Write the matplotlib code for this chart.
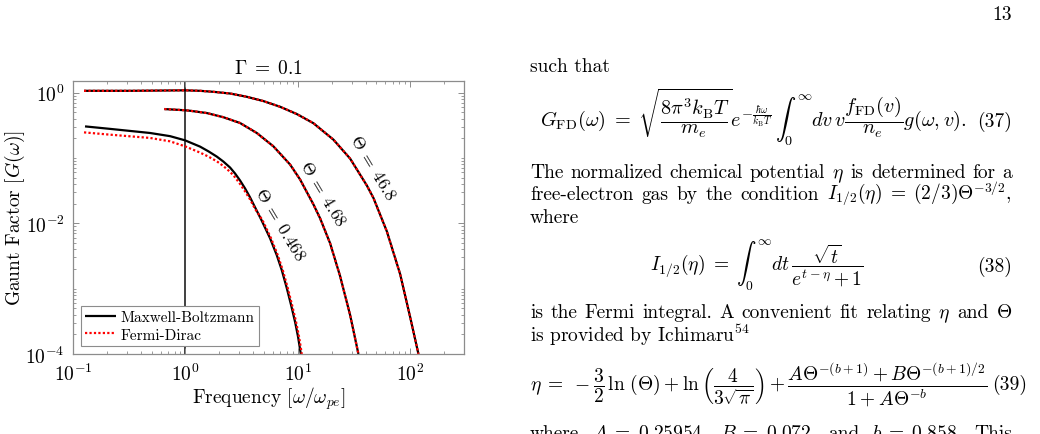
import re

import matplotlib
matplotlib.use("Agg")
import matplotlib.pyplot as plt
from matplotlib.ticker import LogLocator, FixedLocator, NullFormatter

plt.rcParams.update({
    "font.family": "cmr10",
    "mathtext.fontset": "cm",
    "axes.unicode_minus": False,
    "axes.formatter.use_mathtext": True,
})

# values (Gamma = 0.1)
x_0468 = [0.1279, 0.2134, 0.4842, 0.7294, 0.9918, 1.349, 1.599, 1.899, 2.174, 2.494, 2.763,
          3.060, 3.391, 3.757, 4.161, 4.755, 5.657, 6.492, 7.192, 7.966, 8.699, 9.443,
          10.04, 10.61]
mb_0468 = [0.3032, 0.2778, 0.2404, 0.2150, 0.1855, 0.1487, 0.1261, 0.1047, 0.08782, 0.07115,
           0.05763, 0.04508, 0.03404, 0.02482, 0.01748, 0.01107, 0.005886, 0.003241,
           0.001914, 0.001018, 5.606e-4, 3.086e-4, 1.822e-4, 1.0e-4]
xfd_0468 = [0.1253, 0.2134, 0.4842, 0.7294, 0.9918, 1.349, 1.599, 1.899, 2.174, 2.494, 2.763,
            3.060, 3.391, 3.757, 4.161, 4.853, 5.774, 6.627, 7.341, 8.131, 8.880, 9.638,
            10.25, 10.83]
fd_0468 = [0.2456, 0.2265, 0.2018, 0.1791, 0.1502, 0.1204, 0.1047, 0.08874, 0.07499, 0.06117,
           0.05044, 0.03987, 0.03063, 0.02313, 0.01658, 0.01107, 0.005886, 0.003241,
           0.001914, 0.001018, 5.606e-4, 3.086e-4, 1.822e-4, 1.0e-4]

x_468 = [0.6492, 0.9918, 1.099, 1.547, 2.174, 3.060, 4.309, 6.054, 8.524, 10.46, 13.74,
         15.76, 19.34, 23.74, 29.13, 34.53]
mb_468 = [0.5584, 0.5353, 0.5260, 0.4853, 0.4188, 0.3416, 0.2404, 0.1502, 0.07905, 0.04670,
          0.01942, 0.01188, 0.004938, 0.001550, 3.946e-4, 1.0e-4]
fd_468 = mb_468  # indistinguishable from MB at this scale

x_4680 = [0.1253, 0.3215, 0.9918, 1.349, 1.771, 2.494, 3.511, 4.933, 6.943, 9.777, 13.74,
          20.70, 29.13, 41.02, 46.96, 61.79, 81.16, 99.59, 118.0]
mb_4680 = [1.0615, 1.0615, 1.080, 1.0615, 1.025, 0.9655, 0.8604, 0.7396, 0.6053, 0.4686,
           0.3392, 0.1901, 0.09757, 0.03782, 0.02438, 0.007522, 0.001663, 3.677e-4, 1.0e-4]
fd_4680 = mb_4680

curves = [(x_0468, mb_0468, xfd_0468, fd_0468),
          (x_468, mb_468, x_468, fd_468),
          (x_4680, mb_4680, x_4680, fd_4680)]
theta_labels = [r"$\Theta\;=\;0.468$", r"$\Theta\;=\;4.68$", r"$\Theta\;=\;46.8$"]
label_pos = [(6.95, 0.0100), (16.8, 0.0295), (46.7, 0.0737)]

W, H = 1040, 435
fig = plt.figure(figsize=(W / 100, H / 100), dpi=100)
ax = fig.add_axes([73 / W, 80 / H, 391 / W, 273 / H])

for i, (xm, ym, xf, yf) in enumerate(curves):
    ax.plot(xm, ym, color="black", lw=1.6, solid_capstyle="butt",
            label="Maxwell-Boltzmann" if i == 0 else None)
    ax.plot(xf, yf, color="red", lw=1.6, ls=(0, (1, 1)),
            label="Fermi-Dirac" if i == 0 else None)
for txt, (lx, ly) in zip(theta_labels, label_pos):
    ax.text(lx, ly, txt, rotation=-59, rotation_mode="anchor", ha="center", va="center",
            fontsize=12.5)
ax.axvline(1.0, color="#404040", lw=1.4, zorder=1)

ax.set_xscale("log"); ax.set_yscale("log")
ax.set_xlim(0.1, 300); ax.set_ylim(1e-4, 1.5)
ax.yaxis.set_major_locator(FixedLocator([1e-4, 1e-2, 1e0]))
ax.yaxis.set_minor_locator(LogLocator(base=10, subs=range(1, 10), numticks=20))
ax.xaxis.set_minor_locator(LogLocator(base=10, subs=range(2, 10), numticks=20))
ax.yaxis.set_minor_formatter(NullFormatter()); ax.xaxis.set_minor_formatter(NullFormatter())
ax.tick_params(which="both", direction="in", top=True, right=True, color="#8c8c8c",
               labelsize=14, pad=6)
ax.tick_params(which="major", length=4, width=0.7)
ax.tick_params(which="minor", length=2, width=0.6)
for s in ax.spines.values():
    s.set_color("#8c8c8c"); s.set_linewidth(0.9)
ax.set_xlabel(r"Frequency $[\omega/\omega_{pe}]$", fontsize=14)
ax.set_ylabel(r"Gaunt Factor $[G(\omega)]$", fontsize=14)
ax.xaxis.set_label_coords(0.5, -30 / 273)
ax.yaxis.set_label_coords(-46 / 391, 0.5)
ax.set_title(r"$\Gamma\;=\;0.1$", fontsize=14, pad=6)
leg = ax.legend(loc="lower left", fontsize=11, fancybox=False, framealpha=1,
                edgecolor="#8c8c8c", borderaxespad=0.5, handlelength=2.0,
                handletextpad=0.3, labelspacing=0.25, borderpad=0.3)
leg.get_frame().set_linewidth(0.8)


# ---- right-hand column of the page ----
def put(x, y, s, **kw):
    kw.setdefault("fontsize", 14)
    kw.setdefault("va", "baseline")
    return fig.text(x / W, 1 - y / H, s, **kw)


renderer = fig.canvas.get_renderer()


def justify(x0, x1, y, line):
    words = re.findall(r"(?:\$[^$]*\$|\S)+", line)
    arts = [put(x0, y, w) for w in words]
    widths = [a.get_window_extent(renderer).width for a in arts]
    gap = (x1 - x0 - sum(widths)) / (len(words) - 1)
    x = x0
    for a, w in zip(arts, widths):
        a.set_x(x / W)
        x += w + gap


put(1012, 20, "13", ha="right")
put(530, 72, "such that")
put(540, 127, r"$G_{\mathrm{FD}}(\omega)\;=\;\sqrt{\dfrac{8\pi^3 k_{\mathrm{B}}T}{m_e}}"
              r"e^{-\frac{\hbar\omega}{k_{\mathrm{B}}T}}\,\int_0^\infty dv\,v"
              r"\dfrac{f_{\mathrm{FD}}(v)}{n_e}g(\omega,v).$", fontsize=14.6)
put(1012, 127, "(37)", ha="right")
justify(530, 1012, 178, r"The normalized chemical potential $\eta$ is determined for a")
justify(530, 1012, 200,
        r"free-electron gas by the condition $I_{1/2}(\eta)\;=\;(2/3)\Theta^{-3/2}$,")
put(530, 223, "where")
put(650, 272, r"$I_{1/2}(\eta)\;=\;\int_0^\infty dt\,\dfrac{\sqrt{t}}{e^{t-\eta}+1}$")
put(1012, 272, "(38)", ha="right")
justify(530, 1012, 318, r"is the Fermi integral. A convenient fit relating $\eta$ and $\Theta$")
put(530, 342, r"is provided by Ichimaru$^{54}$")
put(530, 390, r"$\eta\;=\;-\dfrac{3}{2}\,\ln\,(\Theta) + \ln\left(\dfrac{4}{3\sqrt{\pi}}\right) + "
              r"\dfrac{A\Theta^{-(b+1)} + B\Theta^{-(b+1)/2}}{1 + A\Theta^{-b}}$")
put(1027, 390, "(39)", ha="right")
justify(530, 1012, 439,
        r"where $A\;=\;0.25954$, $B\;=\;0.072$, and $b\;=\;0.858$. This")

fig.savefig("out.png", dpi=100)
